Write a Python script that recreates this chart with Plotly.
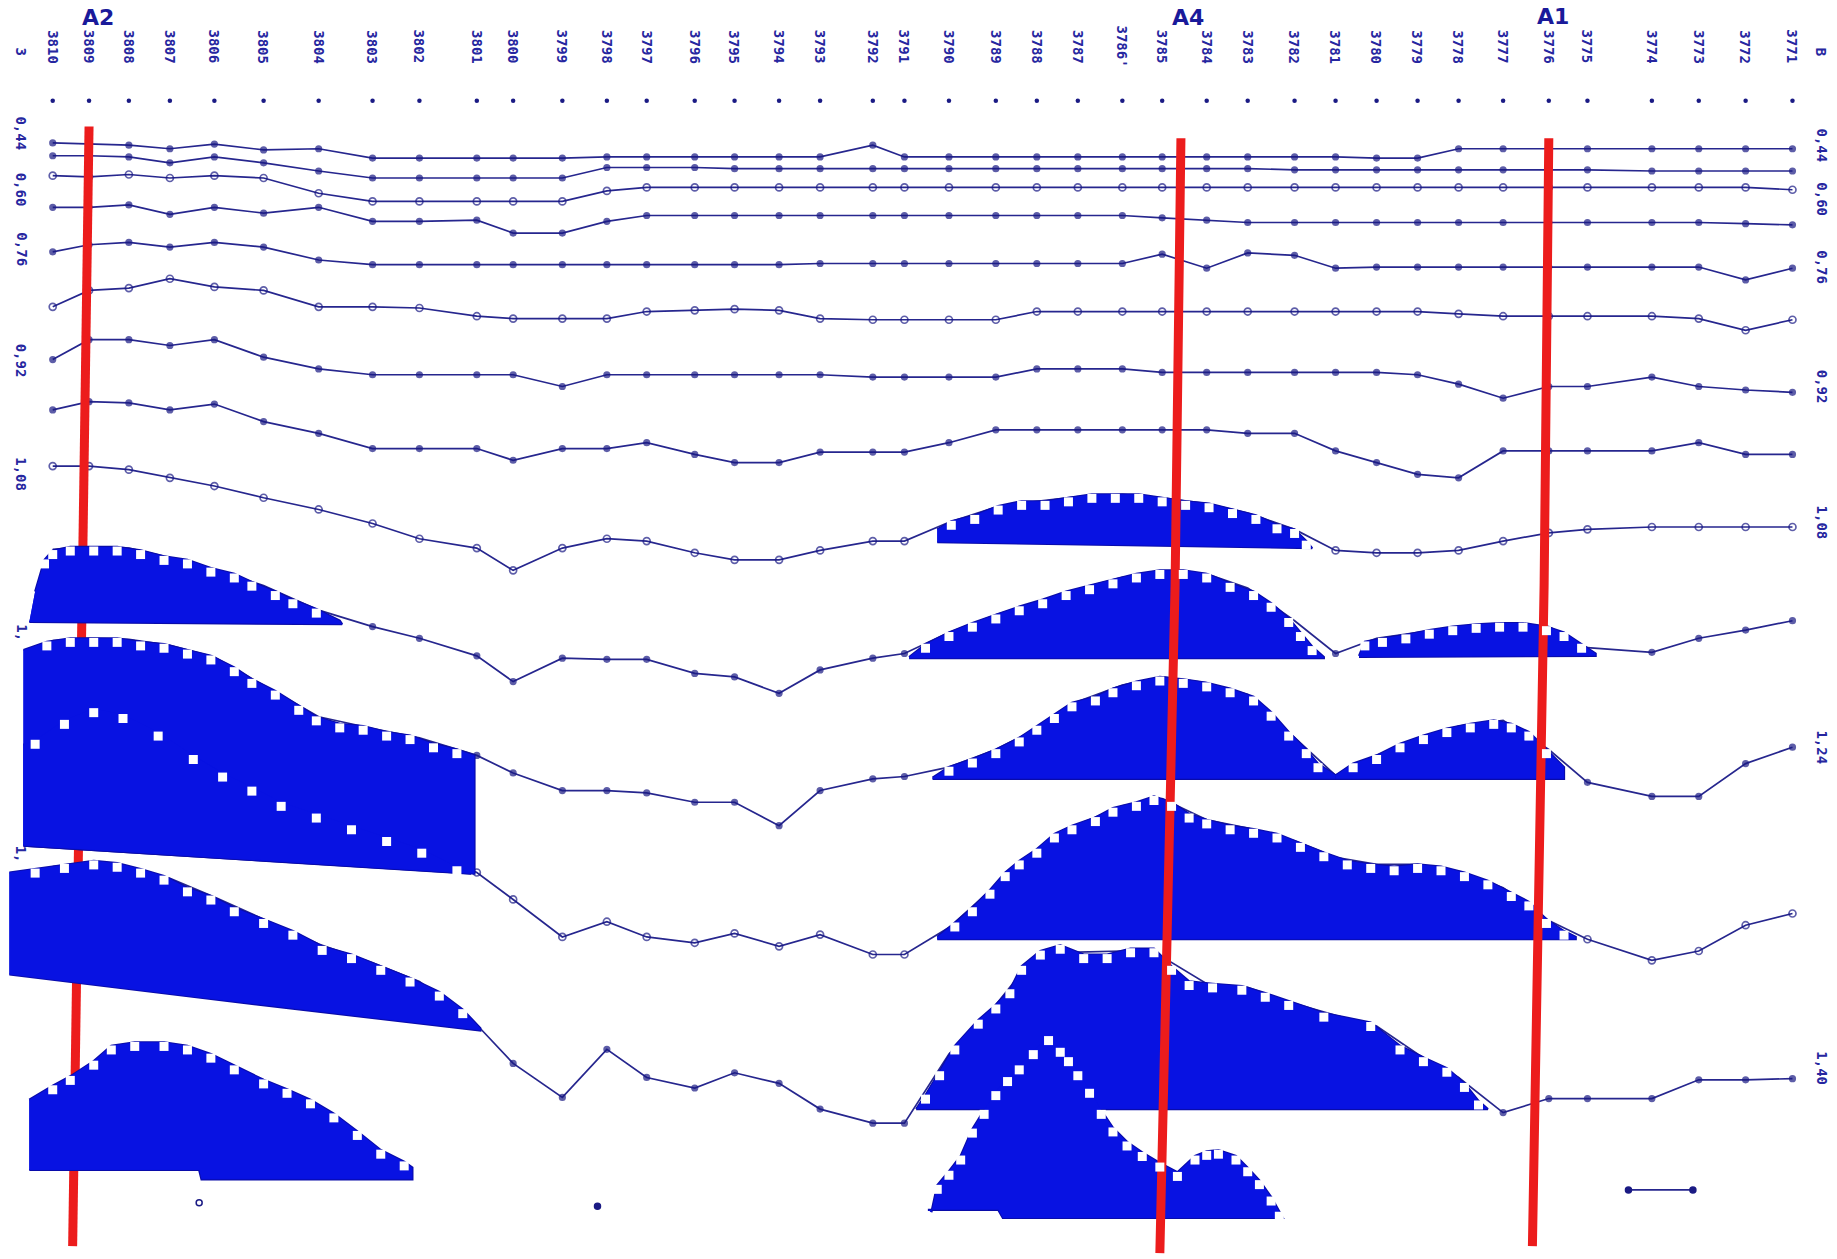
import plotly.graph_objects as go

# ---------------- data ----------------
stations = ["3810", "3809", "3808", "3807", "3806", "3805", "3804", "3803", "3802", "3801",
            "3800", "3799", "3798", "3797", "3796", "3795", "3794", "3793", "3792", "3791",
            "3790", "3789", "3788", "3787", "3786'", "3785", "3784", "3783", "3782", "3781",
            "3780", "3779", "3778", "3777", "3776", "3775", "3774", "3773", "3772", "3771"]
station_pos = [45, 76, 110, 145, 183, 225, 272, 318, 358, 407, 438, 480, 518, 552, 593, 627, 665, 700,
               745, 772, 810, 850, 885, 920, 958, 992, 1030, 1065, 1105, 1140, 1175, 1210, 1245, 1283,
               1322, 1355, 1410, 1450, 1490, 1530]

line01 = [122, 123, 124, 127, 123, 128, 127, 135, 135, 135, 135, 135, 134, 134, 134, 134, 134, 134, 124, 134,
          134, 134, 134, 134, 134, 134, 134, 134, 134, 134, 135, 135, 127, 127, 127, 127, 127, 127, 127, 127]
line02 = [133, 133, 134, 139, 134, 139, 146, 152, 152, 152, 152, 152, 143, 143, 143, 144, 144, 144, 144, 144,
          144, 144, 144, 144, 144, 144, 144, 144, 145, 145, 145, 145, 145, 145, 145, 145, 146, 146, 146, 146]
line03 = [150, 151, 149, 152, 150, 152, 165, 172, 172, 172, 172, 172, 163, 160, 160, 160, 160, 160, 160, 160,
          160, 160, 160, 160, 160, 160, 160, 160, 160, 160, 160, 160, 160, 160, 160, 160, 160, 160, 160, 162]
line04 = [177, 177, 175, 183, 177, 182, 177, 189, 189, 188, 199, 199, 189, 184, 184, 184, 184, 184, 184, 184,
          184, 184, 184, 184, 184, 186, 188, 190, 190, 190, 190, 190, 190, 190, 190, 190, 190, 190, 191, 192]
line05 = [215, 209, 207, 211, 207, 211, 222, 226, 226, 226, 226, 226, 226, 226, 226, 226, 226, 225, 225, 225,
          225, 225, 225, 225, 225, 217, 229, 216, 218, 229, 228, 228, 228, 228, 228, 228, 228, 228, 239, 229]
line06 = [262, 248, 246, 238, 245, 248, 262, 262, 263, 270, 272, 272, 272, 266, 265, 264, 265, 272, 273, 273,
          273, 273, 266, 266, 266, 266, 266, 266, 266, 266, 266, 266, 268, 270, 270, 270, 270, 272, 282, 273]
line07 = [307, 290, 290, 295, 290, 305, 315, 320, 320, 320, 320, 330, 320, 320, 320, 320, 320, 320, 322, 322,
          322, 322, 315, 315, 315, 318, 318, 318, 318, 318, 318, 320, 328, 340, 330, 330, 322, 330, 333, 335]
line08 = [350, 343, 344, 350, 345, 360, 370, 383, 383, 383, 393, 383, 383, 378, 388, 395, 395, 386, 386, 386,
          378, 367, 367, 367, 367, 367, 367, 370, 370, 385, 395, 405, 408, 385, 385, 385, 385, 378, 388, 388]
line09 = [398, 398, 401, 408, 415, 425, 435, 447, 460, 468, 487, 468, 460, 462, 472, 478, 478, 470, 462, 462,
          446, 433, 428, 424, 422, 425, 430, 438, 452, 470, 472, 472, 470, 462, 455, 452, 450, 450, 450, 450]
line10 = [469, 467, 468, 476, 486, 500, 521, 535, 545, 560, 582, 562, 563, 563, 575, 578, 592, 572, 562, 558,
          540, 525, 514, 503, 493, 488, 490, 502, 530, 558, 545, 540, 535, 532, 535, 553, 557, 545, 538, 530]
line11 = [547, 545, 546, 551, 561, 585, 612, 622, 630, 645, 660, 675, 675, 677, 685, 685, 705, 675, 665, 663,
          655, 640, 622, 599, 585, 578, 583, 593, 630, 662, 645, 632, 620, 615, 640, 668, 680, 680, 652, 638]
line12 = [622, 606, 612, 632, 656, 677, 696, 711, 724, 745, 768, 800, 787, 800, 805, 797, 808, 798, 815, 815,
          792, 756, 725, 704, 688, 682, 700, 707, 718, 732, 738, 738, 744, 758, 786, 802, 820, 812, 790, 780]
line13 = [740, 736, 740, 750, 766, 785, 806, 822, 838, 875, 908, 937, 896, 920, 929, 916, 925, 947, 959, 959,
          900, 858, 814, 813, 812, 817, 840, 843, 857, 867, 876, 900, 920, 950, 938, 938, 938, 922, 922, 921]
# last profile: only scattered marks survive outside the shaded zones
line14_x = [170, None, 510, None, 1390, 1445]
line14_y = [1027, None, 1030, None, 1016, 1016]

profiles = [line01, line02, line03, line04, line05, line06, line07,
            line08, line09, line10, line11, line12, line13]
open_marker_profiles = [3, 6, 9, 12]

left_labels = ["0,44", "0,60", "0,76", "0,92", "1,08", "1,", "1,"]
left_label_y = [114, 162, 213, 308, 405, 540, 729]
right_labels = ["0,44", "0,60", "0,76", "0,92", "1,08", "1,24", "1,40"]
right_label_y = [124, 170, 228, 330, 446, 638, 912]

# shaded anomaly zones: (profile number, top curve x, top curve y, base x, base y)
zones = [
    (10, [30, 38, 45, 60, 80, 100, 120, 140, 160, 180, 200, 215, 235, 250, 270, 290],
         [505, 478, 470, 467, 467, 467, 470, 475, 478, 485, 490, 497, 505, 512, 520, 530],
         [25, 292], [531, 533]),
    (9, [800, 812, 832, 852, 872, 892, 912, 932, 952, 972, 992, 1012, 1032, 1052, 1072, 1090, 1105, 1115, 1120],
        [452, 445, 440, 432, 428, 428, 425, 422, 422, 422, 425, 428, 430, 435, 440, 448, 452, 462, 468],
        [800, 1120], [463, 468]),
    (10, [776, 790, 810, 830, 850, 870, 890, 910, 930, 950, 970, 990, 1010, 1030, 1050, 1070, 1085, 1100, 1110, 1120, 1130],
         [561, 550, 540, 532, 525, 518, 512, 505, 500, 495, 490, 487, 487, 490, 498, 505, 515, 528, 540, 552, 561],
         [776, 1130], [562, 562]),
    (10, [1160, 1165, 1180, 1200, 1220, 1240, 1260, 1280, 1300, 1320, 1335, 1350, 1362],
         [560, 548, 545, 542, 538, 535, 533, 532, 532, 535, 540, 550, 558],
         [1160, 1362], [561, 560]),
    (11, [20, 40, 60, 80, 100, 120, 140, 160, 180, 200, 215, 235, 255, 270, 290, 310, 330, 350, 370, 390, 405],
         [555, 548, 545, 545, 545, 548, 550, 555, 560, 570, 580, 590, 603, 612, 618, 620, 625, 628, 635, 640, 645],
         [20, 405], [722, 746]),
    (11, [796, 810, 830, 850, 870, 885, 900, 915, 935, 950, 970, 990, 1010, 1030, 1050, 1070, 1085, 1100, 1115, 1125, 1140],
         [664, 655, 648, 640, 630, 620, 610, 600, 595, 588, 582, 578, 580, 583, 588, 595, 608, 625, 640, 652, 662],
         [796, 1140], [665, 665]),
    (11, [1140, 1155, 1175, 1195, 1215, 1235, 1255, 1275, 1290, 1305, 1320, 1335],
         [662, 652, 645, 635, 628, 622, 618, 615, 618, 625, 640, 655],
         [1140, 1335], [665, 665]),
    (12, [20, 30, 55, 80, 105, 135, 165, 190, 215, 240, 270, 300, 330, 360, 390, 402],
         [636, 632, 615, 605, 610, 625, 645, 660, 672, 685, 695, 705, 715, 725, 740, 746],
         [20, 402], [722, 746]),
    (12, [800, 815, 830, 845, 858, 870, 885, 900, 915, 935, 950, 970, 985, 1000, 1015, 1030, 1050, 1070, 1090, 1110,
          1130, 1150, 1170, 1190, 1210, 1230, 1250, 1270, 1290, 1305, 1320, 1335, 1345],
         [800, 788, 775, 760, 745, 735, 725, 712, 705, 698, 690, 685, 680, 685, 695, 700, 705, 708, 712, 720,
          728, 735, 738, 740, 738, 740, 745, 752, 762, 770, 785, 795, 800],
         [800, 1345], [802, 802]),
    (13, [8, 30, 55, 80, 100, 120, 140, 160, 180, 200, 225, 250, 275, 300, 325, 350, 375, 395, 410],
         [745, 742, 738, 735, 737, 742, 748, 758, 765, 775, 785, 795, 808, 815, 825, 835, 847, 862, 878],
         [8, 180, 410], [832, 853, 880]),
    (13, [782, 790, 802, 815, 835, 850, 862, 872, 888, 905, 925, 945, 965, 985, 1000, 1015, 1035, 1060, 1080, 1100,
          1130, 1170, 1195, 1215, 1235, 1250, 1262, 1270],
         [947, 935, 915, 893, 871, 858, 845, 825, 812, 807, 815, 815, 810, 810, 825, 838, 840, 842, 848, 855,
          865, 873, 893, 903, 912, 925, 940, 947],
         [782, 1270], [947, 947]),
    (14, [25, 45, 60, 80, 95, 115, 140, 160, 180, 200, 225, 245, 265, 285, 305, 325, 345, 352],
         [939, 927, 919, 906, 893, 890, 890, 893, 900, 910, 922, 930, 939, 951, 966, 982, 992, 997],
         [25, 170, 172, 352], [999, 999, 1007, 1007]),
    (14, [795, 800, 810, 820, 830, 840, 850, 860, 870, 882, 895, 905, 912, 920, 930, 940, 950, 962, 975, 990,
          1005, 1020, 1030, 1040, 1055, 1065, 1075, 1085, 1092, 1095],
         [1035, 1012, 1000, 987, 964, 948, 932, 920, 910, 897, 885, 895, 903, 915, 930, 948, 963, 975, 984, 993,
          1001, 987, 983, 982, 987, 997, 1008, 1022, 1035, 1040],
         [792, 852, 856, 1095], [1033, 1033, 1040, 1040]),
]

# red marker lines of the anomalies A2, A4, A1
red_a2_x = [76, 70, 62]
red_a2_y = [108, 500, 1064]
red_a4_x = [1008, 1003, 990]
red_a4_y = [118, 500, 1070]
red_a1_x = [1322, 1318, 1308]
red_a1_y = [118, 500, 1064]
anomaly_names = ["А2", "А4", "А1"]
anomaly_name_x = [84, 1014, 1326]
anomaly_name_y = [15, 15, 14]

# ---------------- styling ----------------
LINE_C = "#26268e"
MARK_C = "#1a1a84"
FILL_C = "#0812e2"
EDGE_C = "#0a0ca8"
RED_C = "#ec1c1c"
TEXT_C = "#2626a0"

fig = go.Figure()

# profile lines (under the shading)
for i, vals in enumerate(profiles, start=1):
    ranges = [(min(z[1]), max(z[1])) for z in zones if z[0] == i]
    sizes = []
    for x in station_pos:
        inside = any(a <= x <= b for a, b in ranges)
        sizes.append(0 if inside else (7 if i in open_marker_profiles else 5.5))
    fig.add_trace(go.Scatter(
        x=station_pos, y=vals, mode="lines+markers",
        line=dict(color=LINE_C, width=1.7),
        marker=dict(symbol="circle-open" if i in open_marker_profiles else "circle",
                    size=sizes, color=MARK_C, line=dict(width=1.7, color=MARK_C)),
        hoverinfo="skip", showlegend=False))

fig.add_trace(go.Scatter(x=line14_x, y=line14_y, mode="lines+markers",
                         line=dict(color=LINE_C, width=1.7),
                         marker=dict(symbol=["circle-open", "circle", "circle", "circle", "circle", "circle"],
                                     size=6, color=MARK_C, line=dict(width=1.5, color=MARK_C)),
                         hoverinfo="skip", showlegend=False))

# left red line lies under the shading
fig.add_trace(go.Scatter(x=red_a2_x, y=red_a2_y, mode="lines",
                         line=dict(color=RED_C, width=9), hoverinfo="skip", showlegend=False))

# shaded zones: dark rims first, then the flat fills over them so inner rims vanish
for pass_no in (0, 1):
    for prof, tx, ty, bx, by in zones:
        fig.add_trace(go.Scatter(
            x=list(tx) + list(reversed(bx)), y=list(ty) + list(reversed(by)),
            mode="lines", fill="toself", fillcolor=FILL_C,
            line=dict(color=EDGE_C if pass_no == 0 else FILL_C, width=2.2 if pass_no == 0 else 0.1),
            hoverinfo="skip", showlegend=False))
# white notches sit just inside the upper edge (drawn on an overlay axis shifted slightly down)
for prof, tx, ty, bx, by in zones:
    fig.add_trace(go.Scatter(
        x=tx[1:-1], y=ty[1:-1], mode="markers", yaxis="y2",
        marker=dict(symbol="square", size=9, color="white", line=dict(width=0)),
        hoverinfo="skip", showlegend=False))

# other red lines over the shading
for rx, ry in [(red_a4_x, red_a4_y), (red_a1_x, red_a1_y)]:
    fig.add_trace(go.Scatter(x=rx, y=ry, mode="lines",
                             line=dict(color=RED_C, width=9), hoverinfo="skip", showlegend=False))

# station pickets
fig.add_trace(go.Scatter(x=station_pos, y=[86] * len(station_pos), mode="markers",
                         marker=dict(symbol="circle", size=4.5, color=MARK_C),
                         hoverinfo="skip", showlegend=False))

mono = dict(family="DejaVu Sans Mono", size=14, color=TEXT_C, weight="bold")
ann = []
for s, x in zip(stations, station_pos):
    ann.append(dict(x=x, y=40, text=s, showarrow=False, textangle=90, font=mono,
                    xref="x", yref="y"))
ann.append(dict(x=18, y=44, text="З", showarrow=False, textangle=90, font=mono, xref="x", yref="y"))
ann.append(dict(x=1555, y=44, text="В", showarrow=False, textangle=90, font=mono, xref="x", yref="y"))
for t, y in zip(left_labels, left_label_y):
    ann.append(dict(x=18, y=y, text=t, showarrow=False, textangle=90, font=mono, xref="x", yref="y"))
for t, y in zip(right_labels, right_label_y):
    ann.append(dict(x=1555, y=y, text=t, showarrow=False, textangle=90, font=mono, xref="x", yref="y"))
for t, x, y in zip(anomaly_names, anomaly_name_x, anomaly_name_y):
    ann.append(dict(x=x, y=y, text=t, showarrow=False,
                    font=dict(family="DejaVu Sans", size=22, color="#1a1a9a", weight="bold"),
                    xref="x", yref="y"))

fig.update_layout(
    width=1837, height=1259,
    margin=dict(l=0, r=0, t=0, b=0),
    paper_bgcolor="white", plot_bgcolor="white",
    xaxis=dict(range=[0, 1568], visible=False, fixedrange=True),
    yaxis=dict(range=[1075, 0], visible=False, fixedrange=True),
    yaxis2=dict(range=[1071.5, -3.5], overlaying="y", visible=False, fixedrange=True),
    annotations=ann,
    showlegend=False,
)

fig.write_html("out.html", config={"displayModeBar": False})
